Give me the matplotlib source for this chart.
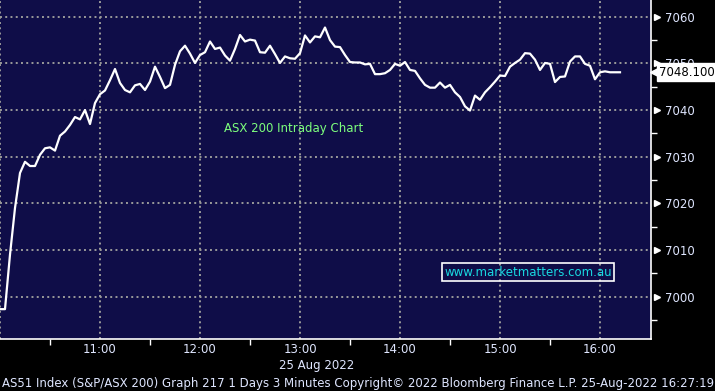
import numpy as np
import matplotlib
matplotlib.use("Agg")
import matplotlib.pyplot as plt
from matplotlib.transforms import blended_transform_factory

# ASX 200 intraday, 3 minute bars from 10:00
start_hour = 10.0
bar_minutes = 3
prices = [
    6997.3, 6997.3, 7009.0, 7019.0, 7026.5, 7028.9, 7028.0, 7028.0, 7030.4, 7031.8,
    7032.0, 7031.3, 7034.5, 7035.4, 7036.8, 7038.5, 7038.0, 7040.0, 7037.0, 7041.5,
    7043.4, 7044.2, 7046.4, 7048.8, 7045.8, 7044.3, 7043.8, 7045.3, 7045.6, 7044.3,
    7046.1, 7049.3, 7047.1, 7044.7, 7045.4, 7049.7, 7052.6, 7053.8, 7052.1, 7050.1,
    7051.8, 7052.4, 7054.7, 7053.1, 7053.4, 7051.7, 7050.6, 7053.1, 7056.1, 7054.7,
    7055.1, 7054.9, 7052.4, 7052.3, 7053.8, 7052.0, 7050.1, 7051.5, 7051.1, 7051.0,
    7052.2, 7056.0, 7054.5, 7055.8, 7055.6, 7057.7, 7055.0, 7053.6, 7053.5, 7051.8,
    7050.3, 7050.2, 7050.2, 7049.8, 7049.9, 7047.7, 7047.7, 7047.9, 7048.6, 7049.9,
    7049.5, 7050.3, 7048.6, 7048.4, 7046.8, 7045.4, 7044.8, 7044.8, 7045.9, 7044.8,
    7045.4, 7043.8, 7042.8, 7040.8, 7039.9, 7043.1, 7042.2, 7043.8, 7044.9, 7046.1,
    7047.4, 7047.3, 7049.3, 7050.1, 7050.8, 7052.2, 7052.1, 7050.8, 7048.6, 7050.1,
    7049.9, 7046.0, 7047.1, 7047.2, 7050.4, 7051.5, 7051.5, 7049.9, 7049.5, 7046.6,
    7048.1, 7048.3, 7048.1, 7048.1, 7048.1,
]
hour_ticks = [10, 11, 12, 13, 14, 15, 16]
hour_labels = ["", "11:00", "12:00", "13:00", "14:00", "15:00", "16:00"]
price_ticks = [7000, 7010, 7020, 7030, 7040, 7050, 7060]

times = start_hour + np.arange(len(prices)) * bar_minutes / 60.0

bg = "#0f0d48"
grid_col = "#9a9a9a"
txt_col = "#dfe6ff"
font = "DejaVu Sans"

fig = plt.figure(figsize=(7.15, 3.91), dpi=100, facecolor="black")
ax = fig.add_axes([0.0, 1 - 339 / 391, 651 / 715, 339 / 391])
ax.set_facecolor(bg)

ax.plot(times, prices, color="white", lw=1.6, zorder=3)

ax.set_xlim(10.0, 16.51)
ax.set_ylim(6990.9, 7063.6)

# grid
for h in hour_ticks:
    ax.axvline(h, color=grid_col, lw=1.4, ls=(0, (1, 1.7)), zorder=1)
for p in price_ticks:
    ax.axhline(p, color=grid_col, lw=1.4, ls=(0, (1, 1.7)), zorder=1)

# spines
for s in ["top", "left"]:
    ax.spines[s].set_visible(False)
for s in ["right", "bottom"]:
    ax.spines[s].set_color("white")
    ax.spines[s].set_linewidth(1.2)

# x axis
ax.set_xticks(hour_ticks)
ax.set_xticklabels(hour_labels, fontsize=8.5, color=txt_col, family=font)
ax.set_xticks(np.arange(10.5, 16.5, 1.0), minor=True)
ax.tick_params(axis="x", which="major", length=0, pad=3)
ax.tick_params(axis="x", which="minor", length=4, color="white", width=1)

# y axis on the right
ax.yaxis.tick_right()
ax.set_yticks(price_ticks)
ax.set_yticklabels([str(p) for p in price_ticks], fontsize=8.5, color=txt_col, family=font)
ax.set_yticks(np.arange(6995, 7065, 10), minor=True)
ax.tick_params(axis="y", which="major", length=0, pad=10)
ax.tick_params(axis="y", which="minor", length=4, color="white", width=1)

tr = blended_transform_factory(ax.transAxes, ax.transData)
ax.plot([1.009] * len(price_ticks), price_ticks, marker=">", ls="none", ms=5,
        color="white", transform=tr, clip_on=False, zorder=5)

# last price tag
last = prices[-1]
ax.plot([1.007], [last], marker="<", ls="none", ms=8, color="white",
        transform=tr, clip_on=False, zorder=6)
ax.text(1.013, last, f"{last:.3f}", transform=tr, ha="left", va="center",
        fontsize=8.5, color="black", family=font, zorder=7,
        bbox=dict(boxstyle="square,pad=0.2", fc="white", ec="white"))

# annotations
fig.text(294 / 715, 1 - 128 / 391, "ASX 200 Intraday Chart", color="#7dff7d",
         fontsize=8.5, family=font, ha="center", va="center")
fig.text(528 / 715, 1 - 272 / 391, "www.marketmatters.com.au", color="#19d9e0",
         fontsize=8.5, family=font, ha="center", va="center",
         bbox=dict(boxstyle="square,pad=0.2", fc="none", ec="white", lw=1.2))

fig.text(317 / 715, 1 - 365 / 391, "25 Aug 2022", color=txt_col, fontsize=8.5,
         family=font, ha="center", va="center")
fig.text(2 / 715, 1 - 383 / 391,
         "AS51 Index (S&P/ASX 200) Graph 217 1 Days 3 Minutes Copyright\u00a9 2022 "
         "Bloomberg Finance L.P. 25-Aug-2022 16:27:19",
         color=txt_col, fontsize=8.5, family=font, ha="left", va="center")

fig.savefig("out.png", dpi=100, facecolor="black")
